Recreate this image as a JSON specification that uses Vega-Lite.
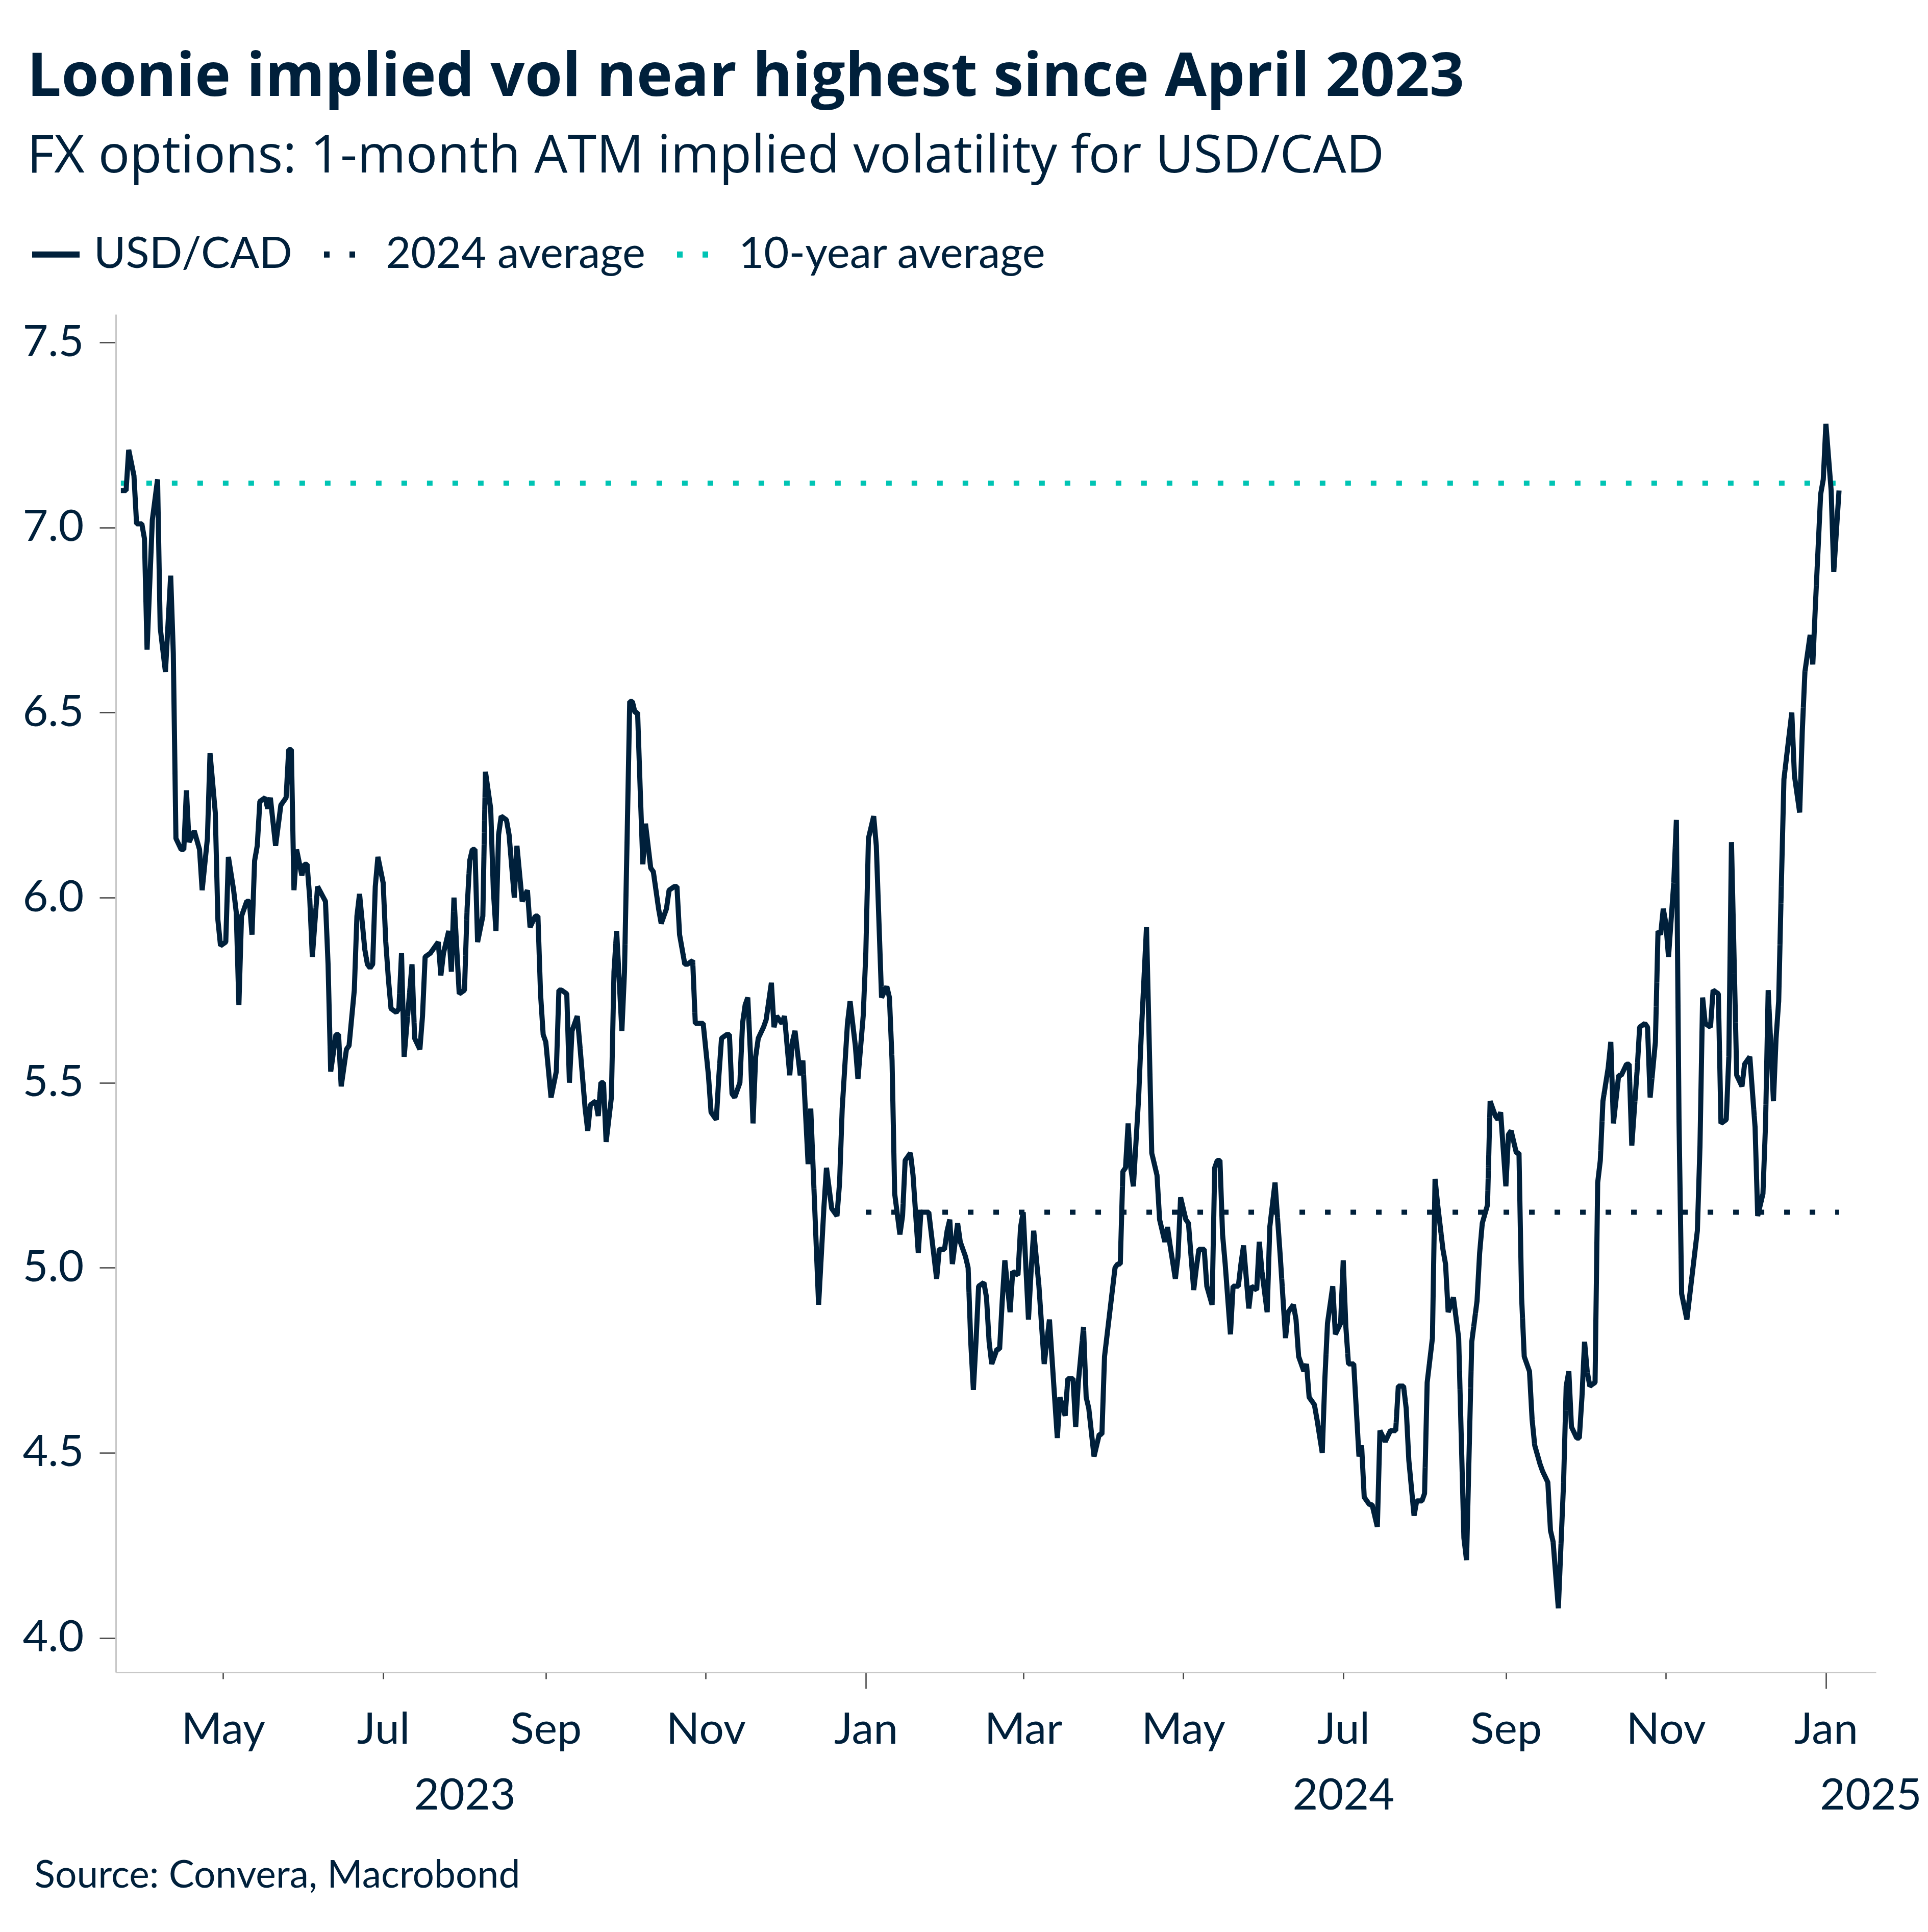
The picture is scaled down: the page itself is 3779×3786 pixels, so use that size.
{
"$schema":"https://vega.github.io/schema/vega-lite/v6.json",
"width":3450,"height":2661,
"autosize":{"type":"none"},
"padding":{"left":227,"top":616,"right":102,"bottom":509},
"background":"white",
"title":{"text":"Loonie implied vol near highest since April 2023","subtitle":"FX options: 1-month ATM implied volatility for USD/CAD","anchor":"start","frame":"group","dx":-174,"font":"Open Sans","fontSize":119,"fontWeight":"bold","color":"#00203b","subtitleFont":"Open Sans","subtitleFontSize":103,"subtitleColor":"#00203b","subtitlePadding":44,"offset":86},
"config":{"view":{"stroke":null},"font":"Lato"},
"datasets":{
"avg":[
{"d":"2023-03-23","v":7.12,"s":"10-year average"},{"d":"2025-01-06","v":7.12,"s":"10-year average"},
{"d":"2024-01-01","v":5.15,"s":"2024 average"},{"d":"2025-01-06","v":5.15,"s":"2024 average"}],
"usdcad":[
{"d":"2023-03-23","v":7.10,"s":"USD/CAD"},{"d":"2023-03-25","v":7.10,"s":"USD/CAD"},{"d":"2023-03-26","v":7.21,"s":"USD/CAD"},{"d":"2023-03-28","v":7.14,"s":"USD/CAD"},{"d":"2023-03-29","v":7.01,"s":"USD/CAD"},{"d":"2023-03-31","v":7.01,"s":"USD/CAD"},{"d":"2023-04-01","v":6.97,"s":"USD/CAD"},{"d":"2023-04-02","v":6.67,"s":"USD/CAD"},{"d":"2023-04-04","v":7.02,"s":"USD/CAD"},{"d":"2023-04-06","v":7.13,"s":"USD/CAD"},{"d":"2023-04-07","v":6.73,"s":"USD/CAD"},{"d":"2023-04-09","v":6.61,"s":"USD/CAD"},{"d":"2023-04-11","v":6.87,"s":"USD/CAD"},{"d":"2023-04-12","v":6.66,"s":"USD/CAD"},{"d":"2023-04-13","v":6.16,"s":"USD/CAD"},{"d":"2023-04-15","v":6.13,"s":"USD/CAD"},{"d":"2023-04-16","v":6.13,"s":"USD/CAD"},{"d":"2023-04-17","v":6.29,"s":"USD/CAD"},{"d":"2023-04-18","v":6.15,"s":"USD/CAD"},{"d":"2023-04-20","v":6.18,"s":"USD/CAD"},{"d":"2023-04-22","v":6.13,"s":"USD/CAD"},{"d":"2023-04-23","v":6.02,"s":"USD/CAD"},{"d":"2023-04-25","v":6.16,"s":"USD/CAD"},{"d":"2023-04-26","v":6.39,"s":"USD/CAD"},{"d":"2023-04-28","v":6.23,"s":"USD/CAD"},{"d":"2023-04-29","v":5.94,"s":"USD/CAD"},{"d":"2023-04-30","v":5.87,"s":"USD/CAD"},
{"d":"2023-05-02","v":5.88,"s":"USD/CAD"},{"d":"2023-05-03","v":6.11,"s":"USD/CAD"},{"d":"2023-05-05","v":6.02,"s":"USD/CAD"},{"d":"2023-05-06","v":5.96,"s":"USD/CAD"},{"d":"2023-05-07","v":5.71,"s":"USD/CAD"},{"d":"2023-05-08","v":5.95,"s":"USD/CAD"},{"d":"2023-05-10","v":5.99,"s":"USD/CAD"},{"d":"2023-05-11","v":5.99,"s":"USD/CAD"},{"d":"2023-05-12","v":5.90,"s":"USD/CAD"},{"d":"2023-05-13","v":6.10,"s":"USD/CAD"},{"d":"2023-05-14","v":6.14,"s":"USD/CAD"},{"d":"2023-05-15","v":6.26,"s":"USD/CAD"},{"d":"2023-05-17","v":6.27,"s":"USD/CAD"},{"d":"2023-05-18","v":6.24,"s":"USD/CAD"},{"d":"2023-05-19","v":6.27,"s":"USD/CAD"},{"d":"2023-05-21","v":6.14,"s":"USD/CAD"},{"d":"2023-05-23","v":6.25,"s":"USD/CAD"},{"d":"2023-05-25","v":6.27,"s":"USD/CAD"},{"d":"2023-05-26","v":6.40,"s":"USD/CAD"},{"d":"2023-05-27","v":6.40,"s":"USD/CAD"},{"d":"2023-05-28","v":6.02,"s":"USD/CAD"},{"d":"2023-05-29","v":6.13,"s":"USD/CAD"},{"d":"2023-05-31","v":6.06,"s":"USD/CAD"},
{"d":"2023-06-01","v":6.09,"s":"USD/CAD"},{"d":"2023-06-02","v":6.09,"s":"USD/CAD"},{"d":"2023-06-03","v":6.00,"s":"USD/CAD"},{"d":"2023-06-04","v":5.84,"s":"USD/CAD"},{"d":"2023-06-06","v":6.03,"s":"USD/CAD"},{"d":"2023-06-09","v":5.99,"s":"USD/CAD"},{"d":"2023-06-10","v":5.82,"s":"USD/CAD"},{"d":"2023-06-11","v":5.53,"s":"USD/CAD"},{"d":"2023-06-13","v":5.63,"s":"USD/CAD"},{"d":"2023-06-14","v":5.63,"s":"USD/CAD"},{"d":"2023-06-15","v":5.49,"s":"USD/CAD"},{"d":"2023-06-17","v":5.59,"s":"USD/CAD"},{"d":"2023-06-18","v":5.60,"s":"USD/CAD"},{"d":"2023-06-20","v":5.75,"s":"USD/CAD"},{"d":"2023-06-21","v":5.95,"s":"USD/CAD"},{"d":"2023-06-22","v":6.01,"s":"USD/CAD"},{"d":"2023-06-24","v":5.86,"s":"USD/CAD"},{"d":"2023-06-25","v":5.82,"s":"USD/CAD"},{"d":"2023-06-26","v":5.81,"s":"USD/CAD"},{"d":"2023-06-27","v":5.82,"s":"USD/CAD"},{"d":"2023-06-28","v":6.03,"s":"USD/CAD"},{"d":"2023-06-29","v":6.11,"s":"USD/CAD"},
{"d":"2023-07-01","v":6.04,"s":"USD/CAD"},{"d":"2023-07-02","v":5.88,"s":"USD/CAD"},{"d":"2023-07-03","v":5.78,"s":"USD/CAD"},{"d":"2023-07-04","v":5.70,"s":"USD/CAD"},{"d":"2023-07-06","v":5.69,"s":"USD/CAD"},{"d":"2023-07-07","v":5.70,"s":"USD/CAD"},{"d":"2023-07-08","v":5.85,"s":"USD/CAD"},{"d":"2023-07-09","v":5.57,"s":"USD/CAD"},{"d":"2023-07-12","v":5.82,"s":"USD/CAD"},{"d":"2023-07-13","v":5.62,"s":"USD/CAD"},{"d":"2023-07-15","v":5.59,"s":"USD/CAD"},{"d":"2023-07-16","v":5.68,"s":"USD/CAD"},{"d":"2023-07-17","v":5.84,"s":"USD/CAD"},{"d":"2023-07-19","v":5.85,"s":"USD/CAD"},{"d":"2023-07-20","v":5.86,"s":"USD/CAD"},{"d":"2023-07-22","v":5.88,"s":"USD/CAD"},{"d":"2023-07-23","v":5.79,"s":"USD/CAD"},{"d":"2023-07-24","v":5.85,"s":"USD/CAD"},{"d":"2023-07-26","v":5.91,"s":"USD/CAD"},{"d":"2023-07-27","v":5.80,"s":"USD/CAD"},{"d":"2023-07-28","v":6.00,"s":"USD/CAD"},{"d":"2023-07-30","v":5.74,"s":"USD/CAD"},
{"d":"2023-08-01","v":5.75,"s":"USD/CAD"},{"d":"2023-08-02","v":5.97,"s":"USD/CAD"},{"d":"2023-08-03","v":6.10,"s":"USD/CAD"},{"d":"2023-08-04","v":6.13,"s":"USD/CAD"},{"d":"2023-08-05","v":6.13,"s":"USD/CAD"},{"d":"2023-08-06","v":5.88,"s":"USD/CAD"},{"d":"2023-08-08","v":5.95,"s":"USD/CAD"},{"d":"2023-08-09","v":6.34,"s":"USD/CAD"},{"d":"2023-08-11","v":6.24,"s":"USD/CAD"},{"d":"2023-08-12","v":6.02,"s":"USD/CAD"},{"d":"2023-08-13","v":5.91,"s":"USD/CAD"},{"d":"2023-08-14","v":6.17,"s":"USD/CAD"},{"d":"2023-08-15","v":6.22,"s":"USD/CAD"},{"d":"2023-08-17","v":6.21,"s":"USD/CAD"},{"d":"2023-08-18","v":6.17,"s":"USD/CAD"},{"d":"2023-08-20","v":6.00,"s":"USD/CAD"},{"d":"2023-08-21","v":6.14,"s":"USD/CAD"},{"d":"2023-08-23","v":5.99,"s":"USD/CAD"},{"d":"2023-08-25","v":6.02,"s":"USD/CAD"},{"d":"2023-08-26","v":5.92,"s":"USD/CAD"},{"d":"2023-08-28","v":5.95,"s":"USD/CAD"},{"d":"2023-08-29","v":5.95,"s":"USD/CAD"},{"d":"2023-08-30","v":5.74,"s":"USD/CAD"},{"d":"2023-08-31","v":5.63,"s":"USD/CAD"},
{"d":"2023-09-01","v":5.61,"s":"USD/CAD"},{"d":"2023-09-03","v":5.46,"s":"USD/CAD"},{"d":"2023-09-05","v":5.53,"s":"USD/CAD"},{"d":"2023-09-06","v":5.75,"s":"USD/CAD"},{"d":"2023-09-07","v":5.75,"s":"USD/CAD"},{"d":"2023-09-09","v":5.74,"s":"USD/CAD"},{"d":"2023-09-10","v":5.50,"s":"USD/CAD"},{"d":"2023-09-11","v":5.64,"s":"USD/CAD"},{"d":"2023-09-13","v":5.68,"s":"USD/CAD"},{"d":"2023-09-14","v":5.60,"s":"USD/CAD"},{"d":"2023-09-16","v":5.43,"s":"USD/CAD"},{"d":"2023-09-17","v":5.37,"s":"USD/CAD"},{"d":"2023-09-18","v":5.44,"s":"USD/CAD"},{"d":"2023-09-20","v":5.45,"s":"USD/CAD"},{"d":"2023-09-21","v":5.41,"s":"USD/CAD"},{"d":"2023-09-22","v":5.50,"s":"USD/CAD"},{"d":"2023-09-23","v":5.50,"s":"USD/CAD"},{"d":"2023-09-24","v":5.34,"s":"USD/CAD"},{"d":"2023-09-26","v":5.46,"s":"USD/CAD"},{"d":"2023-09-27","v":5.80,"s":"USD/CAD"},{"d":"2023-09-28","v":5.91,"s":"USD/CAD"},{"d":"2023-09-30","v":5.64,"s":"USD/CAD"},
{"d":"2023-10-01","v":5.80,"s":"USD/CAD"},{"d":"2023-10-02","v":6.16,"s":"USD/CAD"},{"d":"2023-10-03","v":6.53,"s":"USD/CAD"},{"d":"2023-10-04","v":6.53,"s":"USD/CAD"},{"d":"2023-10-05","v":6.50,"s":"USD/CAD"},{"d":"2023-10-06","v":6.50,"s":"USD/CAD"},{"d":"2023-10-07","v":6.29,"s":"USD/CAD"},{"d":"2023-10-08","v":6.09,"s":"USD/CAD"},{"d":"2023-10-09","v":6.20,"s":"USD/CAD"},{"d":"2023-10-11","v":6.08,"s":"USD/CAD"},{"d":"2023-10-12","v":6.07,"s":"USD/CAD"},{"d":"2023-10-14","v":5.97,"s":"USD/CAD"},{"d":"2023-10-15","v":5.93,"s":"USD/CAD"},{"d":"2023-10-17","v":5.97,"s":"USD/CAD"},{"d":"2023-10-18","v":6.02,"s":"USD/CAD"},{"d":"2023-10-20","v":6.03,"s":"USD/CAD"},{"d":"2023-10-21","v":6.03,"s":"USD/CAD"},{"d":"2023-10-22","v":5.90,"s":"USD/CAD"},{"d":"2023-10-24","v":5.82,"s":"USD/CAD"},{"d":"2023-10-25","v":5.82,"s":"USD/CAD"},{"d":"2023-10-27","v":5.83,"s":"USD/CAD"},{"d":"2023-10-28","v":5.66,"s":"USD/CAD"},{"d":"2023-10-30","v":5.66,"s":"USD/CAD"},{"d":"2023-10-31","v":5.66,"s":"USD/CAD"},
{"d":"2023-11-02","v":5.52,"s":"USD/CAD"},{"d":"2023-11-03","v":5.42,"s":"USD/CAD"},{"d":"2023-11-05","v":5.40,"s":"USD/CAD"},{"d":"2023-11-06","v":5.52,"s":"USD/CAD"},{"d":"2023-11-07","v":5.62,"s":"USD/CAD"},{"d":"2023-11-09","v":5.63,"s":"USD/CAD"},{"d":"2023-11-10","v":5.63,"s":"USD/CAD"},{"d":"2023-11-11","v":5.47,"s":"USD/CAD"},{"d":"2023-11-12","v":5.46,"s":"USD/CAD"},{"d":"2023-11-14","v":5.50,"s":"USD/CAD"},{"d":"2023-11-15","v":5.66,"s":"USD/CAD"},{"d":"2023-11-16","v":5.71,"s":"USD/CAD"},{"d":"2023-11-17","v":5.73,"s":"USD/CAD"},{"d":"2023-11-18","v":5.58,"s":"USD/CAD"},{"d":"2023-11-19","v":5.39,"s":"USD/CAD"},{"d":"2023-11-20","v":5.57,"s":"USD/CAD"},{"d":"2023-11-21","v":5.62,"s":"USD/CAD"},{"d":"2023-11-23","v":5.65,"s":"USD/CAD"},{"d":"2023-11-24","v":5.67,"s":"USD/CAD"},{"d":"2023-11-26","v":5.77,"s":"USD/CAD"},{"d":"2023-11-27","v":5.65,"s":"USD/CAD"},{"d":"2023-11-28","v":5.68,"s":"USD/CAD"},{"d":"2023-11-30","v":5.66,"s":"USD/CAD"},
{"d":"2023-12-01","v":5.68,"s":"USD/CAD"},{"d":"2023-12-03","v":5.52,"s":"USD/CAD"},{"d":"2023-12-04","v":5.61,"s":"USD/CAD"},{"d":"2023-12-05","v":5.64,"s":"USD/CAD"},{"d":"2023-12-07","v":5.52,"s":"USD/CAD"},{"d":"2023-12-08","v":5.56,"s":"USD/CAD"},{"d":"2023-12-10","v":5.28,"s":"USD/CAD"},{"d":"2023-12-11","v":5.43,"s":"USD/CAD"},{"d":"2023-12-14","v":4.90,"s":"USD/CAD"},{"d":"2023-12-16","v":5.16,"s":"USD/CAD"},{"d":"2023-12-17","v":5.27,"s":"USD/CAD"},{"d":"2023-12-19","v":5.16,"s":"USD/CAD"},{"d":"2023-12-21","v":5.14,"s":"USD/CAD"},{"d":"2023-12-22","v":5.23,"s":"USD/CAD"},{"d":"2023-12-23","v":5.43,"s":"USD/CAD"},{"d":"2023-12-25","v":5.66,"s":"USD/CAD"},{"d":"2023-12-26","v":5.72,"s":"USD/CAD"},{"d":"2023-12-28","v":5.60,"s":"USD/CAD"},{"d":"2023-12-29","v":5.51,"s":"USD/CAD"},{"d":"2023-12-31","v":5.68,"s":"USD/CAD"},
{"d":"2024-01-01","v":5.85,"s":"USD/CAD"},{"d":"2024-01-02","v":6.16,"s":"USD/CAD"},{"d":"2024-01-04","v":6.22,"s":"USD/CAD"},{"d":"2024-01-05","v":6.14,"s":"USD/CAD"},{"d":"2024-01-07","v":5.73,"s":"USD/CAD"},{"d":"2024-01-09","v":5.76,"s":"USD/CAD"},{"d":"2024-01-10","v":5.73,"s":"USD/CAD"},{"d":"2024-01-11","v":5.56,"s":"USD/CAD"},{"d":"2024-01-12","v":5.20,"s":"USD/CAD"},{"d":"2024-01-14","v":5.09,"s":"USD/CAD"},{"d":"2024-01-15","v":5.14,"s":"USD/CAD"},{"d":"2024-01-16","v":5.29,"s":"USD/CAD"},{"d":"2024-01-18","v":5.31,"s":"USD/CAD"},{"d":"2024-01-19","v":5.25,"s":"USD/CAD"},{"d":"2024-01-21","v":5.04,"s":"USD/CAD"},{"d":"2024-01-22","v":5.15,"s":"USD/CAD"},{"d":"2024-01-23","v":5.15,"s":"USD/CAD"},{"d":"2024-01-25","v":5.15,"s":"USD/CAD"},{"d":"2024-01-26","v":5.09,"s":"USD/CAD"},{"d":"2024-01-28","v":4.97,"s":"USD/CAD"},{"d":"2024-01-29","v":5.05,"s":"USD/CAD"},{"d":"2024-01-31","v":5.05,"s":"USD/CAD"},
{"d":"2024-02-01","v":5.10,"s":"USD/CAD"},{"d":"2024-02-02","v":5.13,"s":"USD/CAD"},{"d":"2024-02-03","v":5.01,"s":"USD/CAD"},{"d":"2024-02-05","v":5.12,"s":"USD/CAD"},{"d":"2024-02-06","v":5.07,"s":"USD/CAD"},{"d":"2024-02-08","v":5.03,"s":"USD/CAD"},{"d":"2024-02-09","v":5.00,"s":"USD/CAD"},{"d":"2024-02-10","v":4.80,"s":"USD/CAD"},{"d":"2024-02-11","v":4.67,"s":"USD/CAD"},{"d":"2024-02-12","v":4.80,"s":"USD/CAD"},{"d":"2024-02-13","v":4.95,"s":"USD/CAD"},{"d":"2024-02-15","v":4.96,"s":"USD/CAD"},{"d":"2024-02-16","v":4.92,"s":"USD/CAD"},{"d":"2024-02-17","v":4.80,"s":"USD/CAD"},{"d":"2024-02-18","v":4.74,"s":"USD/CAD"},{"d":"2024-02-20","v":4.78,"s":"USD/CAD"},{"d":"2024-02-21","v":4.78,"s":"USD/CAD"},{"d":"2024-02-22","v":4.91,"s":"USD/CAD"},{"d":"2024-02-23","v":5.02,"s":"USD/CAD"},{"d":"2024-02-25","v":4.88,"s":"USD/CAD"},{"d":"2024-02-26","v":4.99,"s":"USD/CAD"},{"d":"2024-02-28","v":4.98,"s":"USD/CAD"},{"d":"2024-02-29","v":5.11,"s":"USD/CAD"},
{"d":"2024-03-01","v":5.15,"s":"USD/CAD"},{"d":"2024-03-03","v":4.86,"s":"USD/CAD"},{"d":"2024-03-04","v":4.99,"s":"USD/CAD"},{"d":"2024-03-05","v":5.10,"s":"USD/CAD"},{"d":"2024-03-07","v":4.95,"s":"USD/CAD"},{"d":"2024-03-09","v":4.74,"s":"USD/CAD"},{"d":"2024-03-11","v":4.86,"s":"USD/CAD"},{"d":"2024-03-14","v":4.54,"s":"USD/CAD"},{"d":"2024-03-15","v":4.65,"s":"USD/CAD"},{"d":"2024-03-17","v":4.60,"s":"USD/CAD"},{"d":"2024-03-18","v":4.70,"s":"USD/CAD"},{"d":"2024-03-20","v":4.70,"s":"USD/CAD"},{"d":"2024-03-21","v":4.57,"s":"USD/CAD"},{"d":"2024-03-22","v":4.69,"s":"USD/CAD"},{"d":"2024-03-24","v":4.84,"s":"USD/CAD"},{"d":"2024-03-25","v":4.65,"s":"USD/CAD"},{"d":"2024-03-26","v":4.62,"s":"USD/CAD"},{"d":"2024-03-28","v":4.49,"s":"USD/CAD"},{"d":"2024-03-30","v":4.55,"s":"USD/CAD"},{"d":"2024-03-31","v":4.55,"s":"USD/CAD"},
{"d":"2024-04-01","v":4.76,"s":"USD/CAD"},{"d":"2024-04-03","v":4.88,"s":"USD/CAD"},{"d":"2024-04-05","v":5.00,"s":"USD/CAD"},{"d":"2024-04-06","v":5.01,"s":"USD/CAD"},{"d":"2024-04-07","v":5.01,"s":"USD/CAD"},{"d":"2024-04-08","v":5.26,"s":"USD/CAD"},{"d":"2024-04-09","v":5.27,"s":"USD/CAD"},{"d":"2024-04-10","v":5.39,"s":"USD/CAD"},{"d":"2024-04-11","v":5.27,"s":"USD/CAD"},{"d":"2024-04-12","v":5.22,"s":"USD/CAD"},{"d":"2024-04-14","v":5.46,"s":"USD/CAD"},{"d":"2024-04-15","v":5.63,"s":"USD/CAD"},{"d":"2024-04-17","v":5.92,"s":"USD/CAD"},{"d":"2024-04-18","v":5.62,"s":"USD/CAD"},{"d":"2024-04-19","v":5.31,"s":"USD/CAD"},{"d":"2024-04-21","v":5.25,"s":"USD/CAD"},{"d":"2024-04-22","v":5.13,"s":"USD/CAD"},{"d":"2024-04-24","v":5.07,"s":"USD/CAD"},{"d":"2024-04-25","v":5.11,"s":"USD/CAD"},{"d":"2024-04-26","v":5.06,"s":"USD/CAD"},{"d":"2024-04-28","v":4.97,"s":"USD/CAD"},{"d":"2024-04-29","v":5.03,"s":"USD/CAD"},{"d":"2024-04-30","v":5.19,"s":"USD/CAD"},
{"d":"2024-05-02","v":5.13,"s":"USD/CAD"},{"d":"2024-05-03","v":5.12,"s":"USD/CAD"},{"d":"2024-05-05","v":4.94,"s":"USD/CAD"},{"d":"2024-05-06","v":5.00,"s":"USD/CAD"},{"d":"2024-05-07","v":5.05,"s":"USD/CAD"},{"d":"2024-05-09","v":5.05,"s":"USD/CAD"},{"d":"2024-05-10","v":4.95,"s":"USD/CAD"},{"d":"2024-05-12","v":4.90,"s":"USD/CAD"},{"d":"2024-05-13","v":5.27,"s":"USD/CAD"},{"d":"2024-05-14","v":5.29,"s":"USD/CAD"},{"d":"2024-05-15","v":5.29,"s":"USD/CAD"},{"d":"2024-05-16","v":5.09,"s":"USD/CAD"},{"d":"2024-05-17","v":5.01,"s":"USD/CAD"},{"d":"2024-05-19","v":4.82,"s":"USD/CAD"},{"d":"2024-05-20","v":4.95,"s":"USD/CAD"},{"d":"2024-05-22","v":4.95,"s":"USD/CAD"},{"d":"2024-05-23","v":5.01,"s":"USD/CAD"},{"d":"2024-05-24","v":5.06,"s":"USD/CAD"},{"d":"2024-05-26","v":4.89,"s":"USD/CAD"},{"d":"2024-05-27","v":4.95,"s":"USD/CAD"},{"d":"2024-05-29","v":4.94,"s":"USD/CAD"},{"d":"2024-05-30","v":5.07,"s":"USD/CAD"},{"d":"2024-05-31","v":4.99,"s":"USD/CAD"},
{"d":"2024-06-02","v":4.88,"s":"USD/CAD"},{"d":"2024-06-03","v":5.11,"s":"USD/CAD"},{"d":"2024-06-05","v":5.23,"s":"USD/CAD"},{"d":"2024-06-06","v":5.13,"s":"USD/CAD"},{"d":"2024-06-07","v":5.03,"s":"USD/CAD"},{"d":"2024-06-09","v":4.81,"s":"USD/CAD"},{"d":"2024-06-10","v":4.88,"s":"USD/CAD"},{"d":"2024-06-12","v":4.90,"s":"USD/CAD"},{"d":"2024-06-13","v":4.86,"s":"USD/CAD"},{"d":"2024-06-14","v":4.76,"s":"USD/CAD"},{"d":"2024-06-16","v":4.72,"s":"USD/CAD"},{"d":"2024-06-17","v":4.74,"s":"USD/CAD"},{"d":"2024-06-18","v":4.65,"s":"USD/CAD"},{"d":"2024-06-20","v":4.63,"s":"USD/CAD"},{"d":"2024-06-21","v":4.59,"s":"USD/CAD"},{"d":"2024-06-23","v":4.50,"s":"USD/CAD"},{"d":"2024-06-24","v":4.70,"s":"USD/CAD"},{"d":"2024-06-25","v":4.85,"s":"USD/CAD"},{"d":"2024-06-27","v":4.95,"s":"USD/CAD"},{"d":"2024-06-28","v":4.82,"s":"USD/CAD"},{"d":"2024-06-30","v":4.85,"s":"USD/CAD"},
{"d":"2024-07-01","v":5.02,"s":"USD/CAD"},{"d":"2024-07-02","v":4.84,"s":"USD/CAD"},{"d":"2024-07-03","v":4.74,"s":"USD/CAD"},{"d":"2024-07-05","v":4.74,"s":"USD/CAD"},{"d":"2024-07-07","v":4.49,"s":"USD/CAD"},{"d":"2024-07-08","v":4.52,"s":"USD/CAD"},{"d":"2024-07-09","v":4.38,"s":"USD/CAD"},{"d":"2024-07-11","v":4.36,"s":"USD/CAD"},{"d":"2024-07-12","v":4.36,"s":"USD/CAD"},{"d":"2024-07-14","v":4.30,"s":"USD/CAD"},{"d":"2024-07-15","v":4.56,"s":"USD/CAD"},{"d":"2024-07-17","v":4.53,"s":"USD/CAD"},{"d":"2024-07-19","v":4.56,"s":"USD/CAD"},{"d":"2024-07-21","v":4.56,"s":"USD/CAD"},{"d":"2024-07-22","v":4.68,"s":"USD/CAD"},{"d":"2024-07-24","v":4.68,"s":"USD/CAD"},{"d":"2024-07-25","v":4.62,"s":"USD/CAD"},{"d":"2024-07-26","v":4.48,"s":"USD/CAD"},{"d":"2024-07-28","v":4.33,"s":"USD/CAD"},{"d":"2024-07-29","v":4.37,"s":"USD/CAD"},{"d":"2024-07-31","v":4.37,"s":"USD/CAD"},
{"d":"2024-08-01","v":4.39,"s":"USD/CAD"},{"d":"2024-08-02","v":4.69,"s":"USD/CAD"},{"d":"2024-08-04","v":4.81,"s":"USD/CAD"},{"d":"2024-08-05","v":5.24,"s":"USD/CAD"},{"d":"2024-08-06","v":5.17,"s":"USD/CAD"},{"d":"2024-08-08","v":5.05,"s":"USD/CAD"},{"d":"2024-08-09","v":5.01,"s":"USD/CAD"},{"d":"2024-08-10","v":4.88,"s":"USD/CAD"},{"d":"2024-08-12","v":4.92,"s":"USD/CAD"},{"d":"2024-08-14","v":4.81,"s":"USD/CAD"},{"d":"2024-08-16","v":4.27,"s":"USD/CAD"},{"d":"2024-08-17","v":4.21,"s":"USD/CAD"},{"d":"2024-08-19","v":4.80,"s":"USD/CAD"},{"d":"2024-08-21","v":4.91,"s":"USD/CAD"},{"d":"2024-08-22","v":5.04,"s":"USD/CAD"},{"d":"2024-08-23","v":5.12,"s":"USD/CAD"},{"d":"2024-08-25","v":5.17,"s":"USD/CAD"},{"d":"2024-08-26","v":5.45,"s":"USD/CAD"},{"d":"2024-08-28","v":5.41,"s":"USD/CAD"},{"d":"2024-08-29","v":5.40,"s":"USD/CAD"},{"d":"2024-08-30","v":5.42,"s":"USD/CAD"},
{"d":"2024-09-01","v":5.22,"s":"USD/CAD"},{"d":"2024-09-02","v":5.36,"s":"USD/CAD"},{"d":"2024-09-03","v":5.37,"s":"USD/CAD"},{"d":"2024-09-05","v":5.31,"s":"USD/CAD"},{"d":"2024-09-06","v":5.31,"s":"USD/CAD"},{"d":"2024-09-07","v":4.92,"s":"USD/CAD"},{"d":"2024-09-08","v":4.76,"s":"USD/CAD"},{"d":"2024-09-10","v":4.72,"s":"USD/CAD"},{"d":"2024-09-11","v":4.59,"s":"USD/CAD"},{"d":"2024-09-12","v":4.52,"s":"USD/CAD"},{"d":"2024-09-14","v":4.47,"s":"USD/CAD"},{"d":"2024-09-15","v":4.45,"s":"USD/CAD"},{"d":"2024-09-17","v":4.42,"s":"USD/CAD"},{"d":"2024-09-18","v":4.29,"s":"USD/CAD"},{"d":"2024-09-19","v":4.26,"s":"USD/CAD"},{"d":"2024-09-21","v":4.08,"s":"USD/CAD"},{"d":"2024-09-23","v":4.42,"s":"USD/CAD"},{"d":"2024-09-24","v":4.68,"s":"USD/CAD"},{"d":"2024-09-25","v":4.72,"s":"USD/CAD"},{"d":"2024-09-26","v":4.57,"s":"USD/CAD"},{"d":"2024-09-28","v":4.54,"s":"USD/CAD"},{"d":"2024-09-29","v":4.54,"s":"USD/CAD"},{"d":"2024-09-30","v":4.65,"s":"USD/CAD"},
{"d":"2024-10-01","v":4.80,"s":"USD/CAD"},{"d":"2024-10-02","v":4.72,"s":"USD/CAD"},{"d":"2024-10-03","v":4.68,"s":"USD/CAD"},{"d":"2024-10-05","v":4.69,"s":"USD/CAD"},{"d":"2024-10-06","v":5.23,"s":"USD/CAD"},{"d":"2024-10-07","v":5.29,"s":"USD/CAD"},{"d":"2024-10-08","v":5.45,"s":"USD/CAD"},{"d":"2024-10-10","v":5.54,"s":"USD/CAD"},{"d":"2024-10-11","v":5.61,"s":"USD/CAD"},{"d":"2024-10-12","v":5.39,"s":"USD/CAD"},{"d":"2024-10-14","v":5.52,"s":"USD/CAD"},{"d":"2024-10-15","v":5.52,"s":"USD/CAD"},{"d":"2024-10-17","v":5.55,"s":"USD/CAD"},{"d":"2024-10-18","v":5.55,"s":"USD/CAD"},{"d":"2024-10-19","v":5.33,"s":"USD/CAD"},{"d":"2024-10-21","v":5.53,"s":"USD/CAD"},{"d":"2024-10-22","v":5.65,"s":"USD/CAD"},{"d":"2024-10-24","v":5.66,"s":"USD/CAD"},{"d":"2024-10-25","v":5.65,"s":"USD/CAD"},{"d":"2024-10-26","v":5.46,"s":"USD/CAD"},{"d":"2024-10-28","v":5.61,"s":"USD/CAD"},{"d":"2024-10-29","v":5.91,"s":"USD/CAD"},{"d":"2024-10-30","v":5.90,"s":"USD/CAD"},{"d":"2024-10-31","v":5.97,"s":"USD/CAD"},
{"d":"2024-11-01","v":5.93,"s":"USD/CAD"},{"d":"2024-11-02","v":5.84,"s":"USD/CAD"},{"d":"2024-11-04","v":6.04,"s":"USD/CAD"},{"d":"2024-11-05","v":6.21,"s":"USD/CAD"},{"d":"2024-11-06","v":5.40,"s":"USD/CAD"},{"d":"2024-11-07","v":4.93,"s":"USD/CAD"},{"d":"2024-11-09","v":4.86,"s":"USD/CAD"},{"d":"2024-11-11","v":4.98,"s":"USD/CAD"},{"d":"2024-11-13","v":5.10,"s":"USD/CAD"},{"d":"2024-11-14","v":5.33,"s":"USD/CAD"},{"d":"2024-11-15","v":5.73,"s":"USD/CAD"},{"d":"2024-11-16","v":5.66,"s":"USD/CAD"},{"d":"2024-11-18","v":5.65,"s":"USD/CAD"},{"d":"2024-11-19","v":5.75,"s":"USD/CAD"},{"d":"2024-11-21","v":5.74,"s":"USD/CAD"},{"d":"2024-11-22","v":5.39,"s":"USD/CAD"},{"d":"2024-11-24","v":5.40,"s":"USD/CAD"},{"d":"2024-11-25","v":5.57,"s":"USD/CAD"},{"d":"2024-11-26","v":6.15,"s":"USD/CAD"},{"d":"2024-11-28","v":5.52,"s":"USD/CAD"},{"d":"2024-11-30","v":5.49,"s":"USD/CAD"},
{"d":"2024-12-01","v":5.55,"s":"USD/CAD"},{"d":"2024-12-03","v":5.57,"s":"USD/CAD"},{"d":"2024-12-05","v":5.38,"s":"USD/CAD"},{"d":"2024-12-06","v":5.14,"s":"USD/CAD"},{"d":"2024-12-08","v":5.20,"s":"USD/CAD"},{"d":"2024-12-09","v":5.39,"s":"USD/CAD"},{"d":"2024-12-10","v":5.75,"s":"USD/CAD"},{"d":"2024-12-12","v":5.45,"s":"USD/CAD"},{"d":"2024-12-13","v":5.62,"s":"USD/CAD"},{"d":"2024-12-14","v":5.72,"s":"USD/CAD"},{"d":"2024-12-15","v":6.03,"s":"USD/CAD"},{"d":"2024-12-16","v":6.32,"s":"USD/CAD"},{"d":"2024-12-19","v":6.50,"s":"USD/CAD"},{"d":"2024-12-20","v":6.33,"s":"USD/CAD"},{"d":"2024-12-22","v":6.23,"s":"USD/CAD"},{"d":"2024-12-23","v":6.45,"s":"USD/CAD"},{"d":"2024-12-24","v":6.61,"s":"USD/CAD"},{"d":"2024-12-26","v":6.71,"s":"USD/CAD"},{"d":"2024-12-27","v":6.63,"s":"USD/CAD"},{"d":"2024-12-28","v":6.79,"s":"USD/CAD"},{"d":"2024-12-30","v":7.09,"s":"USD/CAD"},{"d":"2024-12-31","v":7.13,"s":"USD/CAD"},
{"d":"2025-01-01","v":7.28,"s":"USD/CAD"},{"d":"2025-01-03","v":7.10,"s":"USD/CAD"},{"d":"2025-01-04","v":6.88,"s":"USD/CAD"},{"d":"2025-01-06","v":7.10,"s":"USD/CAD"}
]},
"layer":[
{
"data":{"name":"avg"},
"mark":{"type":"line","strokeWidth":10,"strokeCap":"butt"},
"encoding":{
"x":{"field":"d","type":"temporal","scale":{"type":"utc","domain":[{"year":2023,"month":3,"date":21,"hours":2,"utc":true},{"year":2025,"month":1,"date":20,"hours":2,"utc":true}]},
"axis":{"orient":"bottom","values":[{"year":2023,"month":8,"date":1,"utc":true},{"year":2024,"month":7,"date":1,"utc":true},{"year":2025,"month":1,"date":18,"utc":true}],"labelExpr":"utcFormat(datum.value, '%Y')","domain":false,"ticks":false,"tickSize":0,"grid":false,"labelPadding":200,"labelFont":"Lato","labelFontSize":86,"labelColor":"#00203b","labelFlush":false,"labelOverlap":false,"labelBound":false,"labelLimit":0,
"title":"Source: Convera, Macrobond","titleFont":"Lato","titleFontSize":75,"titleFontWeight":"normal","titleColor":"#00203b","titleAlign":"left","titleX":-160,"titleY":421,"titleBaseline":"alphabetic","titleLimit":0}},
"y":{"field":"v","type":"quantitative","scale":{"domain":[3.907,7.576],"nice":false,"zero":false},
"axis":{"values":[4,4.5,5,5.5,6,6.5,7,7.5],"format":".1f","labelFont":"Lato","labelFontSize":86,"labelColor":"#00203b","tickSize":32,"tickColor":"#404040","tickWidth":2.5,"labelPadding":31,"domainColor":"#c8c8c8","domainWidth":3,"grid":false,"title":null,"labelFlush":false}},
"color":{"field":"s","type":"nominal","scale":{"domain":["USD/CAD","2024 average","10-year average"],"range":["#00203b","#00203b","#00c4b4"]},
"legend":{"orient":"none","legendX":-170,"legendY":-170,"direction":"horizontal","title":null,"symbolType":"stroke","symbolSize":8649,"symbolStrokeWidth":12,"labelFont":"Lato","labelFontSize":85,"labelColor":"#00203b","labelOffset":22,"columnPadding":38,"labelLimit":2000,"padding":0}},
"strokeDash":{"field":"s","type":"nominal","scale":{"domain":["USD/CAD","2024 average","10-year average"],"range":[[1,0],[11,39],[11,39]]},
"legend":{"orient":"none","legendX":-170,"legendY":-170,"direction":"horizontal","title":null,"symbolType":"stroke","symbolSize":8649,"symbolStrokeWidth":12,"labelFont":"Lato","labelFontSize":85,"labelColor":"#00203b","labelOffset":22,"columnPadding":38,"labelLimit":2000,"padding":0}}
}
},
{
"data":{"name":"usdcad"},
"mark":{"type":"line","strokeWidth":10,"strokeJoin":"bevel"},
"encoding":{
"x":{"field":"d","type":"temporal","scale":{"type":"utc","domain":[{"year":2023,"month":3,"date":21,"hours":2,"utc":true},{"year":2025,"month":1,"date":20,"hours":2,"utc":true}]},
"axis":{"orient":"bottom","values":[{"year":2023,"month":5,"date":1,"utc":true},{"year":2023,"month":7,"date":1,"utc":true},{"year":2023,"month":9,"date":1,"utc":true},{"year":2023,"month":11,"date":1,"utc":true},{"year":2024,"month":1,"date":1,"utc":true},{"year":2024,"month":3,"date":1,"utc":true},{"year":2024,"month":5,"date":1,"utc":true},{"year":2024,"month":7,"date":1,"utc":true},{"year":2024,"month":9,"date":1,"utc":true},{"year":2024,"month":11,"date":1,"utc":true},{"year":2025,"month":1,"date":1,"utc":true}],"labelExpr":"utcFormat(datum.value, '%b')","domainColor":"#c8c8c8","domainWidth":3,"tickColor":"#404040","tickWidth":2.5,"tickSize":{"condition":{"test":"utcmonth(datum.value) === 0","value":32},"value":13},"grid":false,"labelPadding":{"condition":{"test":"utcmonth(datum.value) === 0","value":39},"value":58},"labelFont":"Lato","labelFontSize":86,"labelColor":"#00203b","labelFlush":false,"labelOverlap":false,"labelBound":false,"title":null}},
"y":{"field":"v","type":"quantitative","scale":{"domain":[3.907,7.576],"nice":false,"zero":false},
"axis":{"values":[4,4.5,5,5.5,6,6.5,7,7.5],"format":".1f","labelFont":"Lato","labelFontSize":86,"labelColor":"#00203b","tickSize":32,"tickColor":"#404040","tickWidth":2.5,"labelPadding":31,"domainColor":"#c8c8c8","domainWidth":3,"grid":false,"title":null,"labelFlush":false}},
"color":{"field":"s","type":"nominal","scale":{"domain":["USD/CAD","2024 average","10-year average"],"range":["#00203b","#00203b","#00c4b4"]},
"legend":{"orient":"none","legendX":-170,"legendY":-170,"direction":"horizontal","title":null,"symbolType":"stroke","symbolSize":8649,"symbolStrokeWidth":12,"labelFont":"Lato","labelFontSize":85,"labelColor":"#00203b","labelOffset":22,"columnPadding":38,"labelLimit":2000,"padding":0}},
"strokeDash":{"field":"s","type":"nominal","scale":{"domain":["USD/CAD","2024 average","10-year average"],"range":[[1,0],[11,39],[11,39]]},
"legend":{"orient":"none","legendX":-170,"legendY":-170,"direction":"horizontal","title":null,"symbolType":"stroke","symbolSize":8649,"symbolStrokeWidth":12,"labelFont":"Lato","labelFontSize":85,"labelColor":"#00203b","labelOffset":22,"columnPadding":38,"labelLimit":2000,"padding":0}}
}
}
],
"resolve":{"axis":{"x":"independent"}}
}
